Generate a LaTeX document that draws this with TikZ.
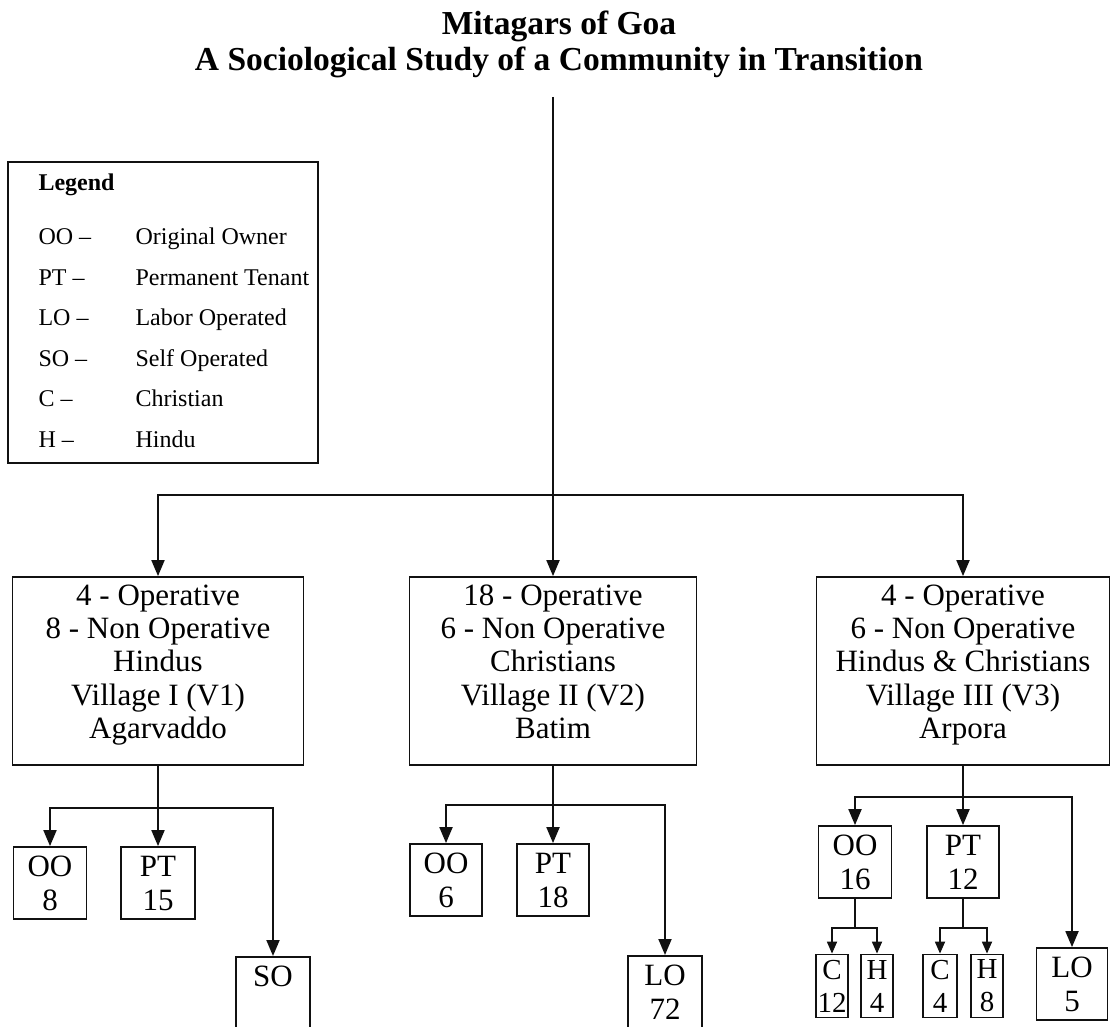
\documentclass[tikz,border=0pt]{standalone}
\usepackage{fontspec}
\setmainfont{Liberation Serif}
\usetikzlibrary{arrows.meta,positioning,calc}
\definecolor{Ink}{HTML}{111111}
\newcommand{\Holding}[5]{%
  \node[holding,minimum width=#4pt] (#1) at (#2,#3) {#5};%
}

\begin{document}
\begin{tikzpicture}[x=1pt,y=-1pt,
  link/.style={Ink,line width=1.9pt,-{Triangle[length=16pt,width=13pt]}},
  twig/.style={Ink,line width=1.7pt,-{Triangle[length=12pt,width=10pt]}},
  stem/.style={Ink,line width=1.9pt},
  village/.style={draw=Ink,line width=1.8pt,align=center,minimum height=188pt,text depth=19pt,font=\fontsize{31}{33.3}\selectfont},
  holding/.style={draw=Ink,line width=1.8pt,align=center,minimum height=72pt,inner sep=2pt,font=\fontsize{31}{34}\selectfont},
  faith/.style={holding,minimum height=63pt,inner xsep=0.5pt,font=\fontsize{29}{33}\selectfont},
  cut/.style={holding,anchor=north,text height=28pt,text depth=80pt},
  legtext/.style={anchor=base west,font=\fontsize{24}{28}\selectfont}]
\clip (0,0) rectangle (1118,1027);

% title
\node[font=\bfseries\fontsize{33.5}{36}\selectfont,align=center] (title) at (559,44) {Mitagars of Goa\\A Sociological Study of a Community in Transition};

% legend
\node[draw=Ink,line width=1.8pt,minimum width=310pt,minimum height=301pt] (legend) at (163,312.5) {};
\node[legtext,font=\bfseries\fontsize{24}{28}\selectfont] (legtitle) at (35,190) {Legend};
\foreach \y/\ab/\full [count=\i] in {244/OO/Original Owner,285/PT/Permanent Tenant,325/LO/Labor Operated,366/SO/Self Operated,406/C/Christian,447/H/Hindu} {
  \node[legtext] (ab\i) at (35,\y) {\ab\ --};
  \node[legtext] (full\i) at (132,\y) {\full};
}

% villages
\node[village,minimum width=291pt] (v1) at (158,671) {4 - Operative\\8 - Non Operative\\Hindus\\Village I (V1)\\Agarvaddo};
\node[village,minimum width=287pt] (v2) at (553,671) {18 - Operative\\6 - Non Operative\\Christians\\Village II (V2)\\Batim};
\node[village,minimum width=293pt] (v3) at (963,671) {4 - Operative\\6 - Non Operative\\Hindus \& Christians\\Village III (V3)\\Arpora};

\coordinate (top) at (553,97);
\coordinate (hub) at (553,495);
\draw[link] (top) -- (v2);
\draw[link] (hub) -| (v1);
\draw[link] (hub) -| (v3);

% Agarvaddo holdings
\Holding{oo1}{50}{883}{73}{OO\\8}
\Holding{pt1}{158}{883}{74}{PT\\15}
\node[cut,minimum width=74pt] (so1) at (273,956) {SO};
\coordinate (j1) at ($(v1.south)+(0,42)$);
\draw[stem] (v1) -- (j1);
\draw[link] (j1) -| (oo1);
\draw[link] (j1) -- (pt1);
\draw[link] (j1) -| (so1);

% Batim holdings
\Holding{oo2}{446}{880}{72}{OO\\6}
\Holding{pt2}{553}{880}{72}{PT\\18}
\node[cut,minimum width=74pt,text height=62pt] (lo2) at (665,955) {LO\\72};
\coordinate (j2) at ($(v2.south)+(0,39)$);
\draw[stem] (v2) -- (j2);
\draw[link] (j2) -| (oo2);
\draw[link] (j2) -- (pt2);
\draw[link] (j2) -| (lo2);

% Arpora holdings
\Holding{oo3}{855}{862}{73}{OO\\16}
\Holding{pt3}{963}{862}{72}{PT\\12}
\Holding{lo3}{1072}{984}{71}{LO\\5}
\coordinate (j3) at ($(v3.south)+(0,31)$);
\draw[stem] (v3) -- (j3);
\draw[link] (j3) -| (oo3);
\draw[link] (j3) -- (pt3);
\draw[link] (j3) -| (lo3);

\node[faith,minimum width=32pt] (c1) at (832,986) {C\\12};
\node[faith,minimum width=32pt] (h1) at (877,986) {H\\4};
\node[faith,minimum width=34pt] (c2) at (940,986) {C\\4};
\node[faith,minimum width=32pt] (h2) at (987,986) {H\\8};
\coordinate (k1) at ($(oo3.south)+(0,29)$);
\coordinate (k2) at ($(pt3.south)+(0,29)$);
\draw[stem] (oo3) -- (k1);
\draw[stem] (pt3) -- (k2);
\draw[twig] (k1) -| (c1);
\draw[twig] (k1) -| (h1);
\draw[twig] (k2) -| (c2);
\draw[twig] (k2) -| (h2);
\end{tikzpicture}
\end{document}
